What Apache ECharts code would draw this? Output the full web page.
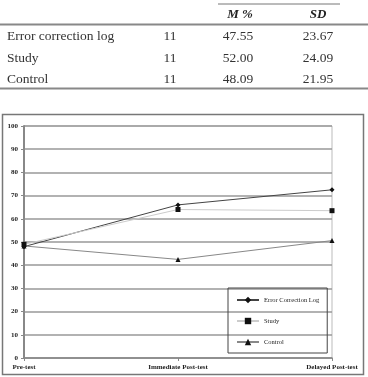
<!DOCTYPE html>
<html><head><meta charset="utf-8">
<script src="https://cdn.jsdelivr.net/npm/echarts@6/dist/echarts.min.js"></script>
<style>html,body{margin:0;padding:0;background:#fff}#c{width:368px;height:377px}</style>
</head><body><div id="c"></div>
<script>
// Table data
const tableHeaders = ['M %', 'SD'];
const tableGroups = ['Error correction log', 'Study', 'Control'];
const tableN = ['11', '11', '11'];
const tableMeans = ['47.55', '52.00', '48.09'];
const tableSDs = ['23.67', '24.09', '21.95'];

// Chart data
const categories = ['Pre-test', 'Immediate Post-test', 'Delayed Post-test'];
const seriesNames = ['Error Correction Log', 'Study', 'Control'];
const errorLog = [48, 66, 72.5];
const study = [49, 64, 63.5];
const control = [48.3, 42.5, 50.6];

const serif = '"Liberation Serif", "DejaVu Serif", serif';
const chart = echarts.init(document.getElementById('c'));

const graphics = [];
// table lines
graphics.push({type:'line', shape:{x1:218,y1:4,x2:340,y2:4}, style:{stroke:'#777',lineWidth:1}});
graphics.push({type:'line', shape:{x1:0,y1:24.5,x2:368,y2:24.5}, style:{stroke:'#888',lineWidth:2}});
graphics.push({type:'line', shape:{x1:0,y1:88.5,x2:368,y2:88.5}, style:{stroke:'#888',lineWidth:2}});
// headers
const headerX = [240, 318];
tableHeaders.forEach((h,i)=>graphics.push({type:'text', x:headerX[i], y:15, style:{text:h, font:'italic bold 13px '+serif, fill:'#222', align:'center', verticalAlign:'middle'}}));
const rowY = [36, 58, 79];
tableGroups.forEach((g,i)=>{
  graphics.push({type:'text', x:7, y:rowY[i], style:{text:g, font:'13.5px '+serif, fill:'#333', align:'left', verticalAlign:'middle'}});
  graphics.push({type:'text', x:170, y:rowY[i], style:{text:tableN[i], font:'13.5px '+serif, fill:'#333', align:'center', verticalAlign:'middle'}});
  graphics.push({type:'text', x:238, y:rowY[i], style:{text:tableMeans[i], font:'13.5px '+serif, fill:'#333', align:'center', verticalAlign:'middle'}});
  graphics.push({type:'text', x:318, y:rowY[i], style:{text:tableSDs[i], font:'13.5px '+serif, fill:'#333', align:'center', verticalAlign:'middle'}});
});
// chart outer border
graphics.push({type:'rect', shape:{x:2.5,y:114.5,width:361,height:260}, style:{fill:null, stroke:'#777', lineWidth:1.5}});

chart.setOption({
  animation:false,
  backgroundColor:'#fff',
  graphic: graphics,
  grid:{left:24, right:36, top:126, bottom:19, containLabel:false, show:true, borderColor:'#bbb', borderWidth:1},
  legend:{
    orient:'vertical', left:228, top:288,
    data: seriesNames,
    padding:[8,8,7,8], itemGap:13, itemWidth:22, itemHeight:8,
    borderColor:'#444', borderWidth:1, backgroundColor:'transparent',
    textStyle:{fontFamily:serif, fontSize:6.5, color:'#222', lineHeight:8}
  },
  xAxis:{
    type:'category', data:categories, boundaryGap:false,
    axisLine:{lineStyle:{color:'#888', width:1.5}},
    axisTick:{show:true, length:3, lineStyle:{color:'#888'}},
    axisLabel:{fontFamily:serif, fontWeight:'bold', fontSize:7, color:'#222', margin:6, showMinLabel:true, showMaxLabel:true},
    splitLine:{show:false}
  },
  yAxis:{
    type:'value', min:0, max:100, interval:10,
    axisLine:{show:true, lineStyle:{color:'#888', width:2}},
    axisTick:{show:true, length:3, lineStyle:{color:'#888'}},
    axisLabel:{fontFamily:serif, fontWeight:'bold', fontSize:7, color:'#222', margin:6},
    splitLine:{show:true, lineStyle:{color:'#999', width:1.5}}
  },
  series:[
    {name:seriesNames[0], type:'line', data:errorLog, symbol:'diamond', symbolSize:5,
     lineStyle:{color:'#444', width:1}, itemStyle:{color:'#111'}},
    {name:seriesNames[1], type:'line', data:study, symbol:'rect', symbolSize:5,
     lineStyle:{color:'#ccc', width:1}, itemStyle:{color:'#111'}},
    {name:seriesNames[2], type:'line', data:control, symbol:'triangle', symbolSize:5,
     lineStyle:{color:'#888', width:1}, itemStyle:{color:'#111'}}
  ]
});
</script></body></html>
